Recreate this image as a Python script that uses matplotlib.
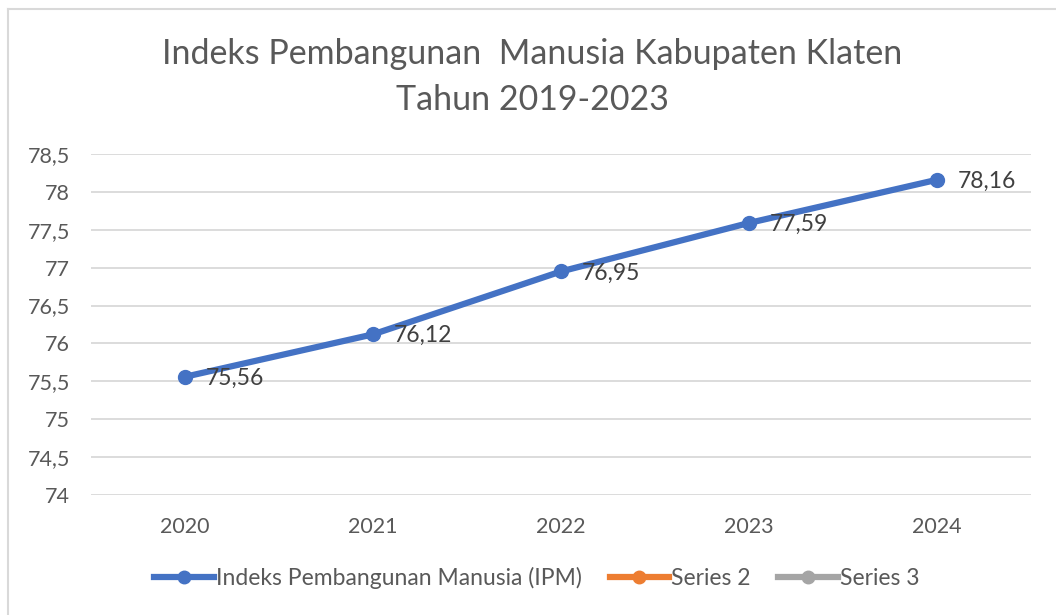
import matplotlib.pyplot as plt
from matplotlib.lines import Line2D

tahun = ["2020", "2021", "2022", "2023", "2024"]
ipm = [75.56, 76.12, 76.95, 77.59, 78.16]
label_ipm = ["75,56", "76,12", "76,95", "77,59", "78,16"]
yticks = [74, 74.5, 75, 75.5, 76, 76.5, 77, 77.5, 78, 78.5]
ytick_labels = ["74", "74,5", "75", "75,5", "76", "76,5", "77", "77,5", "78", "78,5"]

plt.rcParams['font.family'] = ['Lato', 'DejaVu Sans']

fig = plt.figure(figsize=(10.56, 6.15), dpi=100)
ax = fig.add_axes([91/1056, 1 - 495/615, 940/1056, (495 - 154)/615])

x = list(range(len(tahun)))
ax.plot(x, ipm, color="#4472C4", linewidth=4.5, marker="o", markersize=10,
        solid_capstyle="round", zorder=3)
for xi, yi, lab in zip(x, ipm, label_ipm):
    ax.annotate(lab, (xi, yi), xytext=(15, -1), textcoords="offset points",
                ha="left", va="center", fontsize=16.5, color="#404040")

ax.set_xlim(-0.5, len(tahun) - 0.5)
ax.set_ylim(74, 78.5)
ax.set_xticks(x)
ax.set_xticklabels(tahun)
ax.set_yticks(yticks)
ax.set_yticklabels(ytick_labels)
ax.tick_params(axis="both", length=0, labelsize=15.5, colors="#595959")
ax.tick_params(axis="x", pad=16)
ax.tick_params(axis="y", pad=15)
ax.grid(axis="y", color="#D9D9D9", linewidth=1.3)
ax.set_axisbelow(True)
for s in ax.spines.values():
    s.set_visible(False)

fig.text(532/1056, 1 - 77/615, "Indeks Pembangunan  Manusia Kabupaten Klaten\nTahun 2019-2023",
         ha="center", va="center", fontsize=24.5, color="#595959", linespacing=1.5)

handles = [
    Line2D([], [], color="#4472C4", linewidth=4.5, marker="o", markersize=9),
    Line2D([], [], color="#ED7D31", linewidth=4.5, marker="o", markersize=9),
    Line2D([], [], color="#A5A5A5", linewidth=4.5, marker="o", markersize=9),
]
fig.legend(handles, ["Indeks Pembangunan Manusia (IPM)", "Series 2", "Series 3"],
           loc="center", bbox_to_anchor=(537/1056, 1 - 578/615), ncol=3, frameon=False,
           fontsize=16.5, labelcolor="#595959", handlelength=2.6, handletextpad=0.1,
           columnspacing=1.2)

# frame lines like the cropped chart border
fig.add_artist(Line2D([8/1056, 1], [1 - 9/615, 1 - 9/615], color="#D9D9D9", linewidth=1.5))
fig.add_artist(Line2D([8/1056, 8/1056], [0, 1 - 9/615], color="#D9D9D9", linewidth=1.5))

fig.savefig("out.png", dpi=100)
